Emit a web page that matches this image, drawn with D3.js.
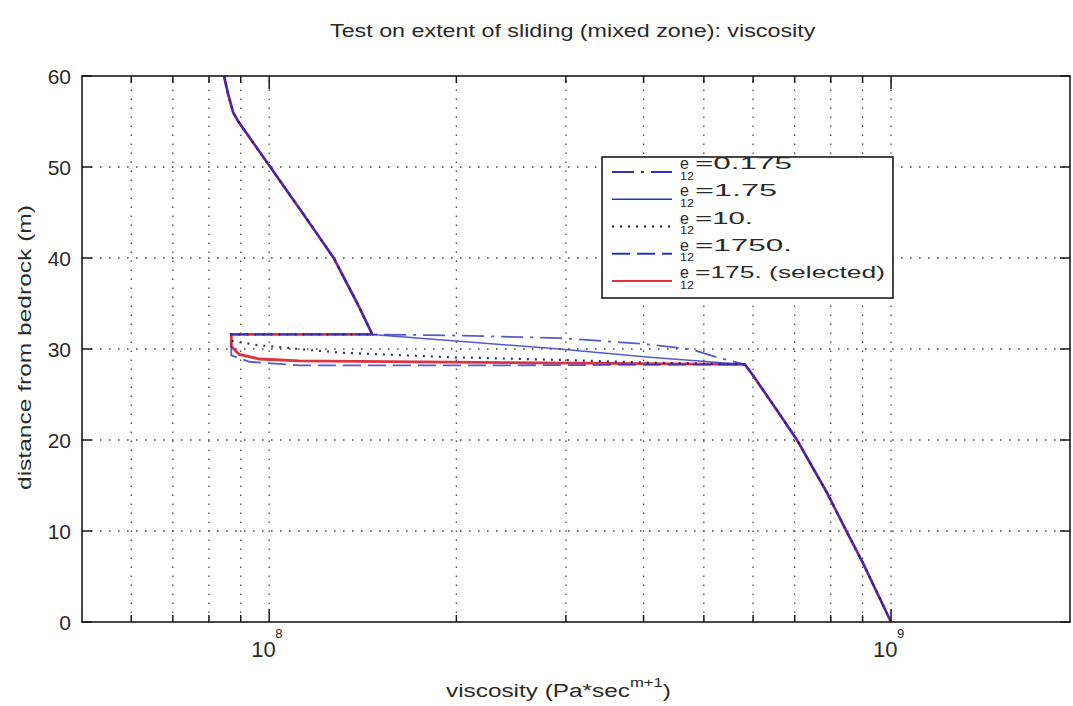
<!DOCTYPE html>
<html>
<head>
<meta charset="utf-8">
<script src="https://cdn.jsdelivr.net/npm/d3@7"></script>
<style>
  body { margin: 0; background: #fff; }
  svg { display: block; }
  text { font-family: "Liberation Sans", Arial, sans-serif; fill: #2a2a2a; }
</style>
</head>
<body>
<svg id="chart" width="1073" height="706"></svg>
<script>
// Viscosity profile above the mixed zone (shared by every run)
const upperHeight    = [60, 58, 56, 55, 50, 45, 40, 35, 31.6];
const upperViscosity = [8.46e7, 8.59e7, 8.75e7, 8.92e7, 1.004e8, 1.13e8, 1.27e8, 1.386e8, 1.465e8];

// Viscosity profile below the mixed zone down to the bed (shared by every run)
const lowerHeight    = [28.3, 27.3, 23.3, 20, 14.2, 9.9, 6.5, 0];
const lowerViscosity = [5.82e8, 5.97e8, 6.55e8, 7.06e8, 7.89e8, 8.49e8, 9.01e8, 1.0e9];

// Mixed zone, one pair of arrays per e12 value
const zoneHeight_0175    = [31.5, 31.2, 30.6, 30.0, 29.0];
const zoneViscosity_0175 = [1.95e8, 2.93e8, 3.94e8, 4.75e8, 5.30e8];

const zoneHeight_175a    = [30.85, 30.0, 29.1];
const zoneViscosity_175a = [2.02e8, 2.93e8, 4.09e8];

const zoneHeight_10      = [31.6, 30.9, 30.4, 29.6, 29.1, 28.8, 28.5];
const zoneViscosity_10   = [8.69e7, 8.69e7, 9.64e7, 1.297e8, 1.95e8, 2.93e8, 4.09e8];

const zoneHeight_1750    = [31.6, 29.3, 28.6, 28.2, 28.2];
const zoneViscosity_1750 = [8.69e7, 8.69e7, 9.29e7, 1.118e8, 2.35e8];

const zoneHeight_175     = [31.6, 30.3, 29.4, 28.9, 28.7, 28.55];
const zoneViscosity_175  = [8.69e7, 8.69e7, 8.95e7, 9.64e7, 1.118e8, 1.95e8];

const legendLabels = ["=0.175", "=1.75", "=10.", "=1750.", "=175. (selected)"];
const yTicks = [0, 10, 20, 30, 40, 50, 60];
const xGridTicks = [6e7, 7e7, 8e7, 9e7, 1e8, 2e8, 3e8, 4e8, 5e8, 6e8, 7e8, 8e8, 9e8, 1e9];
const xLabelTicks = [1e8, 1e9];
const xLabelExponents = ["8", "9"];

const svg = d3.select("#chart");
const x = d3.scaleLog().domain([5e7, 1.94e9]).range([82, 1070]);
const y = d3.scaleLinear().domain([0, 60]).range([622, 76]);

// stretch a text element horizontally about its start point to a given width
function fitWidth(sel, width, anchorX) {
  const w = sel.node().getBBox().width;
  const s = width / w;
  sel.attr("transform", `translate(${anchorX},0) scale(${s},1) translate(${-anchorX},0)`);
}

// grid
const grid = svg.append("g").attr("stroke", "#4a4a4a").attr("stroke-width", 1.3)
  .attr("stroke-dasharray", "1.6 7.4").attr("fill", "none");
grid.selectAll(".vg").data(xGridTicks).join("line")
  .attr("x1", d => x(d)).attr("x2", d => x(d))
  .attr("y1", y(0)).attr("y2", y(60));
grid.selectAll(".hg").data(yTicks.filter(d => d > 0 && d < 60)).join("line")
  .attr("class", "hg")
  .attr("x1", x.range()[0]).attr("x2", x.range()[1])
  .attr("y1", d => y(d)).attr("y2", d => y(d));

// series
const build = (zh, zv) => {
  const pts = upperViscosity.map((v, i) => [v, upperHeight[i]]);
  zv.forEach((v, i) => pts.push([v, zh[i]]));
  lowerViscosity.forEach((v, i) => pts.push([v, lowerHeight[i]]));
  return pts;
};
const series = [
  { pts: build(zoneHeight_175, zoneViscosity_175), color: "#dc3440", dash: null, width: 2.8, opacity: 1 },
  { pts: build(zoneHeight_0175, zoneViscosity_0175), color: "#3030c0", dash: "22 7 3 7", width: 1.8, opacity: 0.8 },
  { pts: build(zoneHeight_175a, zoneViscosity_175a), color: "#3030c0", dash: null, width: 1.6, opacity: 0.8 },
  { pts: build(zoneHeight_10, zoneViscosity_10), color: "#1c1c5a", dash: "2 6", width: 2.2, opacity: 0.9 },
  { pts: build(zoneHeight_1750, zoneViscosity_1750), color: "#3030c0", dash: "18 7", width: 1.8, opacity: 0.8 }
];
const line = d3.line().x(d => x(d[0])).y(d => y(d[1]));
svg.append("g").selectAll("path").data(series).join("path")
  .attr("d", d => line(d.pts))
  .attr("fill", "none")
  .attr("stroke", d => d.color)
  .attr("stroke-width", d => d.width)
  .attr("stroke-opacity", d => d.opacity)
  .attr("stroke-dasharray", d => d.dash);

// axes box and ticks
svg.append("rect")
  .attr("x", x.range()[0]).attr("y", y(60))
  .attr("width", x.range()[1] - x.range()[0]).attr("height", y(0) - y(60))
  .attr("fill", "none").attr("stroke", "#1a1a1a").attr("stroke-width", 1.6);
const ticks = svg.append("g").attr("stroke", "#1a1a1a").attr("stroke-width", 1.5);
xGridTicks.forEach(d => {
  const len = xLabelTicks.includes(d) ? 13 : 7;
  ticks.append("line").attr("x1", x(d)).attr("x2", x(d)).attr("y1", y(0)).attr("y2", y(0) - len);
  ticks.append("line").attr("x1", x(d)).attr("x2", x(d)).attr("y1", y(60)).attr("y2", y(60) + len);
});
yTicks.forEach(d => {
  ticks.append("line").attr("x1", x.range()[0]).attr("x2", x.range()[0] + 10).attr("y1", y(d)).attr("y2", y(d));
  ticks.append("line").attr("x1", x.range()[1]).attr("x2", x.range()[1] - 10).attr("y1", y(d)).attr("y2", y(d));
});

// tick labels
svg.append("g").selectAll("text").data(yTicks).join("text")
  .attr("x", 71).attr("y", d => y(d) + 7.5)
  .attr("text-anchor", "end").attr("font-size", 21)
  .text(d => d);
xLabelTicks.forEach((d, i) => {
  const t = svg.append("text").attr("x", x(d) - 18).attr("y", 657).attr("font-size", 22);
  t.append("tspan").text("10");
  t.append("tspan").attr("x", x(d) + 6).attr("dy", -19).attr("font-size", 13).text(xLabelExponents[i]);
});

// title
const title = svg.append("text").attr("x", 330).attr("y", 37).attr("font-size", 19)
  .text("Test on extent of sliding (mixed zone): viscosity");
fitWidth(title, 486, 330);

// x label
const xl = svg.append("text").attr("x", 446).attr("y", 697).attr("font-size", 19);
xl.append("tspan").text("viscosity (Pa*sec");
xl.append("tspan").attr("dy", -10).attr("font-size", 13).text("m+1");
xl.append("tspan").attr("dy", 10).text(")");
fitWidth(xl, 225, 446);

// y label
const yg = svg.append("g").attr("transform", "translate(31,348) rotate(-90)");
const ylab = yg.append("text").attr("x", -142).attr("y", 0).attr("font-size", 19)
  .text("distance from bedrock (m)");
fitWidth(ylab, 285, -142);

// legend
const lg = svg.append("g");
lg.append("rect").attr("x", 602).attr("y", 157).attr("width", 291).attr("height", 141)
  .attr("fill", "#fff").attr("stroke", "#1a1a1a").attr("stroke-width", 1.6);
const legendOrder = [1, 2, 3, 4, 0];
const labelEnds = [792, 777, 753, 792, 885];
legendOrder.forEach((si, i) => {
  const s = series[si];
  const ly = 172 + 27.25 * i;
  lg.append("line").attr("x1", 612).attr("x2", 672).attr("y1", ly).attr("y2", ly)
    .attr("stroke", s.color).attr("stroke-width", si === 0 ? 1.8 : s.width)
    .attr("stroke-dasharray", s.dash);
  const base = 169 + 27.25 * i;
  // e with subscript 12, then the value, as one text line
  const t = lg.append("text").attr("x", 680).attr("y", base).attr("font-size", 16);
  t.append("tspan").text("e");
  t.append("tspan").attr("x", 680).attr("dy", 10.5).attr("font-size", 10)
    .attr("textLength", 14).attr("lengthAdjust", "spacingAndGlyphs").text("12");
  t.append("tspan").attr("x", 695).attr("dy", -10.5)
    .attr("textLength", labelEnds[i] - 695).attr("lengthAdjust", "spacingAndGlyphs")
    .text(legendLabels[i]);
});
</script>
</body>
</html>
